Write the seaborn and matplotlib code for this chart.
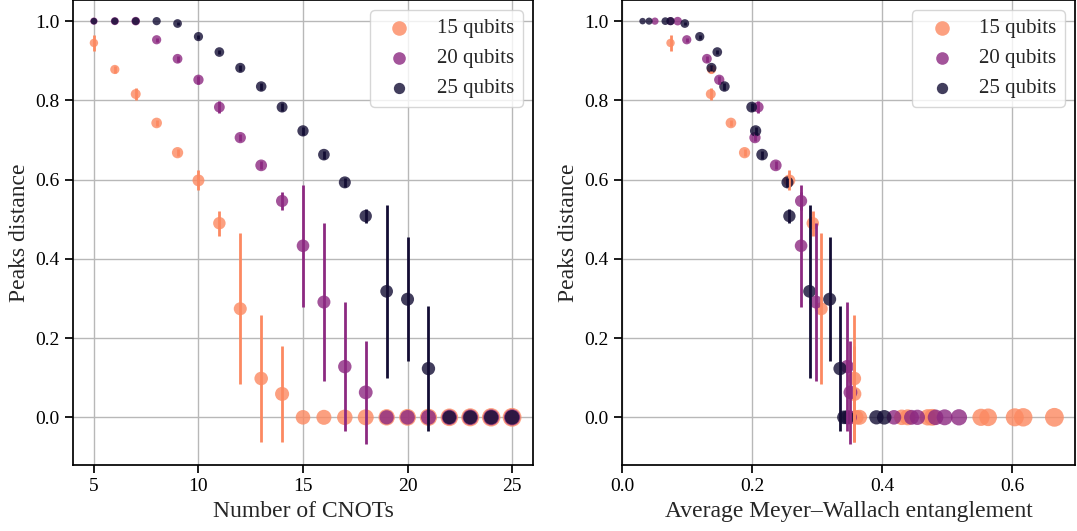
import numpy as np
import matplotlib
matplotlib.use("Agg")
import matplotlib.pyplot as plt
import seaborn as sns

# number of CNOTs (same for every qubit count)
cnots = list(range(5, 26))

# peaks distance, 15 qubits
dist_15 = [0.945, 0.878, 0.816, 0.743, 0.668, 0.598, 0.490, 0.274, 0.098, 0.059,
           0, 0, 0, 0, 0, 0, 0, 0, 0, 0, 0]
err_15 = [0.02, 0.01, 0.015, 0.008, 0.008, 0.025, 0.032, 0.19, 0.16, 0.122,
          0, 0, 0, 0, 0, 0, 0, 0, 0, 0, 0]
ent_15 = [0.074, 0.137, 0.136, 0.167, 0.188, 0.257, 0.293, 0.306, 0.357, 0.357, 0.360,
          0.365, 0.430, 0.439, 0.470, 0.477, 0.552, 0.563, 0.604, 0.617, 0.665]

# peaks distance, 20 qubits
dist_20 = [1.0, 1.0, 1.0, 0.953, 0.905, 0.852, 0.783, 0.706, 0.636, 0.546, 0.433,
           0.291, 0.128, 0.063, 0, 0, 0, 0, 0, 0, 0]
err_20 = [0, 0, 0, 0.005, 0.008, 0.01, 0.015, 0.008, 0.01, 0.022, 0.154,
          0.2, 0.163, 0.13, 0, 0, 0, 0, 0, 0, 0]
ent_20 = [0.050, 0.074, 0.085, 0.099, 0.130, 0.149, 0.209, 0.204, 0.236, 0.275, 0.275,
          0.298, 0.346, 0.351, 0.350, 0.418, 0.445, 0.454, 0.482, 0.496, 0.518]

# peaks distance, 25 qubits
dist_25 = [1.0, 1.0, 1.0, 1.0, 0.994, 0.961, 0.922, 0.882, 0.835, 0.783, 0.723,
           0.663, 0.593, 0.508, 0.318, 0.298, 0.123, 0, 0, 0, 0]
err_25 = [0, 0, 0, 0, 0.005, 0.005, 0.005, 0.008, 0.008, 0.01, 0.01,
          0.01, 0.012, 0.018, 0.218, 0.157, 0.157, 0, 0, 0, 0]
ent_25 = [0.031, 0.041, 0.066, 0.074, 0.096, 0.119, 0.146, 0.137, 0.157, 0.199, 0.205,
          0.215, 0.254, 0.257, 0.288, 0.319, 0.335, 0.341, 0.346, 0.391, 0.403]

qubits = [15, 20, 25]
labels = ["15 qubits", "20 qubits", "25 qubits"]
colors = ["#fc8961", "#8c2981", "#130d34"]

sns.set_theme(style="ticks", rc={"axes.grid": True, "grid.color": "#b8b8b8",
                                 "axes.edgecolor": "black", "xtick.color": "black",
                                 "ytick.color": "black"})
plt.rcParams["font.family"] = ["Liberation Serif", "DejaVu Serif"]

fig, axes = plt.subplots(1, 2, figsize=(10.77, 5.31), dpi=100)
axes[0].set_position([73 / 1077, 66 / 531, 460 / 1077, 465 / 531])
axes[1].set_position([622 / 1077, 66 / 531, 453 / 1077, 465 / 531])

dists = [dist_15, dist_20, dist_25]
errs = [err_15, err_20, err_25]
ents = [ent_15, ent_20, ent_25]

for i in range(3):
    sizes = 110 * np.array(cnots) / qubits[i]
    # left: vs number of CNOTs
    axes[0].errorbar(cnots, dists[i], yerr=errs[i], fmt="none", ecolor=colors[i],
                     elinewidth=2, capsize=0)
    sns.scatterplot(x=cnots, y=dists[i], s=sizes, color=colors[i], alpha=0.8,
                    linewidth=0, label=labels[i], legend=False, ax=axes[0])
    # right: vs entanglement
    axes[1].errorbar(ents[i], dists[i], yerr=errs[i], fmt="none", ecolor=colors[i],
                     elinewidth=2, capsize=0)
    sns.scatterplot(x=ents[i], y=dists[i], s=sizes, color=colors[i], alpha=0.8,
                    linewidth=0, label=labels[i], legend=False, ax=axes[1])

axes[0].set_xlabel("Number of CNOTs", fontsize=17)
axes[1].set_xlabel("Average Meyer–Wallach entanglement", fontsize=17)
axes[0].set_xticks([5, 10, 15, 20, 25])
axes[1].set_xticks([0.0, 0.2, 0.4, 0.6])
for ax in axes:
    ax.set_ylabel("Peaks distance", fontsize=17)
    ax.set_yticks([0.0, 0.2, 0.4, 0.6, 0.8, 1.0])
    ax.tick_params(labelsize=14)
    ax.set_axisbelow(True)
    ax.legend(loc="upper right", fontsize=15)

fig.savefig("out.png", dpi=100)
